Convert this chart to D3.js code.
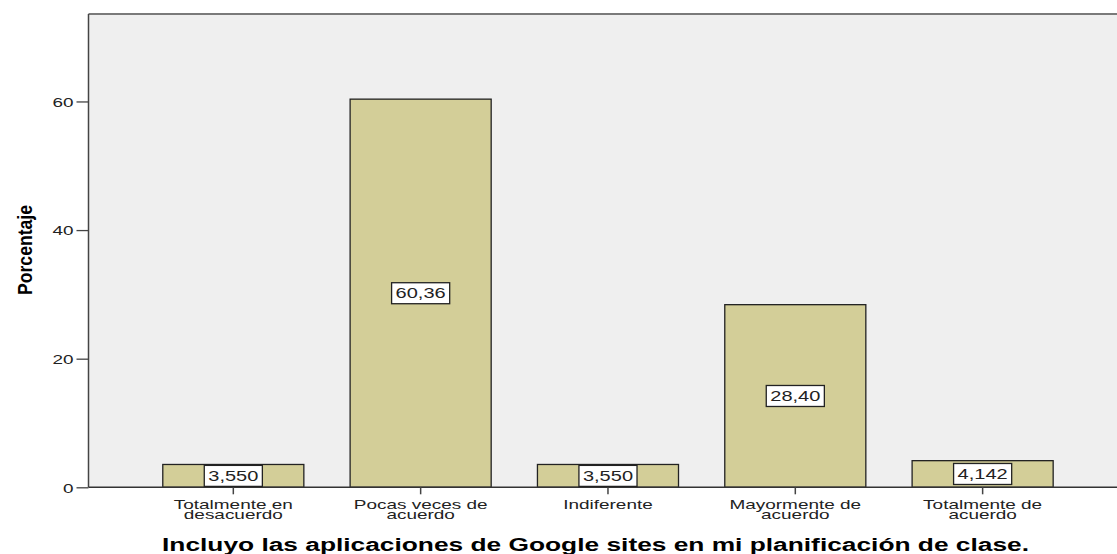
<!DOCTYPE html>
<html><head><meta charset="utf-8">
<script src="https://cdn.jsdelivr.net/npm/d3@7"></script>
<style>body{margin:0;background:#fff}svg{display:block}</style>
</head><body>
<script>
const categories = [["Totalmente en","desacuerdo"],["Pocas veces de","acuerdo"],["Indiferente"],["Mayormente de","acuerdo"],["Totalmente de","acuerdo"]];
const values = [3.550, 60.36, 3.550, 28.40, 4.142];
const valueLabels = ["3,550","60,36","3,550","28,40","4,142"];
const yTicks = [0, 20, 40, 60];
const yTitle = "Porcentaje";
const xTitle = "Incluyo las aplicaciones de Google sites en mi planificación de clase.";

const W = 1117, H = 554;
const FONT = "Liberation Sans, Arial, sans-serif";
const plot = {left: 88.5, top: 14, right: 1125, bottom: 487.3};
const svg = d3.select("body").append("svg").attr("width", W).attr("height", H);

const y = d3.scaleLinear().domain([0, 73.6]).range([plot.bottom, plot.top]);
const x = d3.scaleBand().domain(d3.range(values.length)).range([139.65, 1076.3]).paddingInner(0.247).paddingOuter(0.1235);

svg.append("rect").attr("x", plot.left).attr("y", plot.top).attr("width", plot.right - plot.left).attr("height", plot.bottom - plot.top).attr("fill", "#efefef");
svg.append("line").attr("x1", plot.left).attr("x2", plot.right).attr("y1", plot.top).attr("y2", plot.top).attr("stroke", "#7a7a7a").attr("stroke-width", 2);

// bars
svg.selectAll("rect.bar").data(values).join("rect").attr("class","bar")
  .attr("x", (d,i) => x(i)).attr("width", x.bandwidth())
  .attr("y", d => y(d)).attr("height", d => y(0) - y(d))
  .attr("fill", "#d3ce98").attr("stroke", "#222").attr("stroke-width", 1.3);

// y axis
const yAxis = svg.append("g").attr("transform", `translate(${plot.left},0)`)
  .call(d3.axisLeft(y).tickValues(yTicks).tickSize(12).tickFormat(""));
yAxis.select(".domain").attr("stroke", "#444").attr("stroke-width", 1.5).attr("d", `M0,${plot.top}V${plot.bottom}`);
yAxis.selectAll(".tick line").attr("stroke", "#444").attr("stroke-width", 1.3);
yAxis.selectAll(".tick").append("text")
  .attr("transform", "translate(-15,0) scale(1.4,1)").attr("text-anchor", "end").attr("dy", "0.36em")
  .attr("font-family", FONT).attr("font-size", 13.5).attr("fill", "#222").text(d => d);

// x axis
const xAxis = svg.append("g").attr("transform", `translate(0,${plot.bottom})`)
  .call(d3.axisBottom(x).tickSize(7).tickFormat(""));
xAxis.select(".domain").attr("stroke", "#333").attr("stroke-width", 1.5).attr("d", `M${plot.left},0H${plot.right}`);
xAxis.selectAll(".tick line").attr("stroke", "#444").attr("stroke-width", 1.5);
xAxis.selectAll(".tick").each(function(d) {
  const g = d3.select(this);
  categories[d].forEach((line, k) => g.append("text")
    .attr("transform", `translate(0,${21.3 + k * 10.8}) scale(1.58,1)`)
    .attr("text-anchor", "middle").attr("fill", "#222")
    .attr("font-family", FONT).attr("font-size", 12).text(line));
});

// value labels
const lab = svg.selectAll("g.lab").data(values).join("g").attr("class","lab")
  .attr("transform", (d,i) => `translate(${x(i) + x.bandwidth()/2},${(y(d) + y(0))/2})`);
lab.append("text").attr("text-anchor", "middle").attr("dy", "0.36em").attr("transform", "scale(1.43,1)")
  .attr("font-family", FONT).attr("font-size", 14).attr("fill", "#222")
  .text((d,i) => valueLabels[i]);
lab.each(function() {
  const g = d3.select(this); const w = g.select("text").node().getBBox().width * 1.43;
  g.insert("rect", "text").attr("x", -w/2 - 4).attr("y", -10.5).attr("width", w + 8).attr("height", 21)
    .attr("fill", "#fff").attr("stroke", "#222").attr("stroke-width", 1.3);
});

// titles
svg.append("text").attr("x", 162).attr("y", 550.5).attr("text-anchor", "start")
  .attr("font-family", FONT).attr("font-weight", "bold").attr("font-size", 18)
  .attr("textLength", 867).attr("lengthAdjust", "spacingAndGlyphs").attr("fill", "#000").text(xTitle);
svg.append("text").attr("transform", "translate(32,250) rotate(-90)").attr("text-anchor", "middle")
  .attr("font-family", FONT).attr("font-weight", "bold").attr("font-size", 21)
  .attr("textLength", 90).attr("lengthAdjust", "spacingAndGlyphs").attr("fill", "#000").text(yTitle);
</script>
</body></html>
